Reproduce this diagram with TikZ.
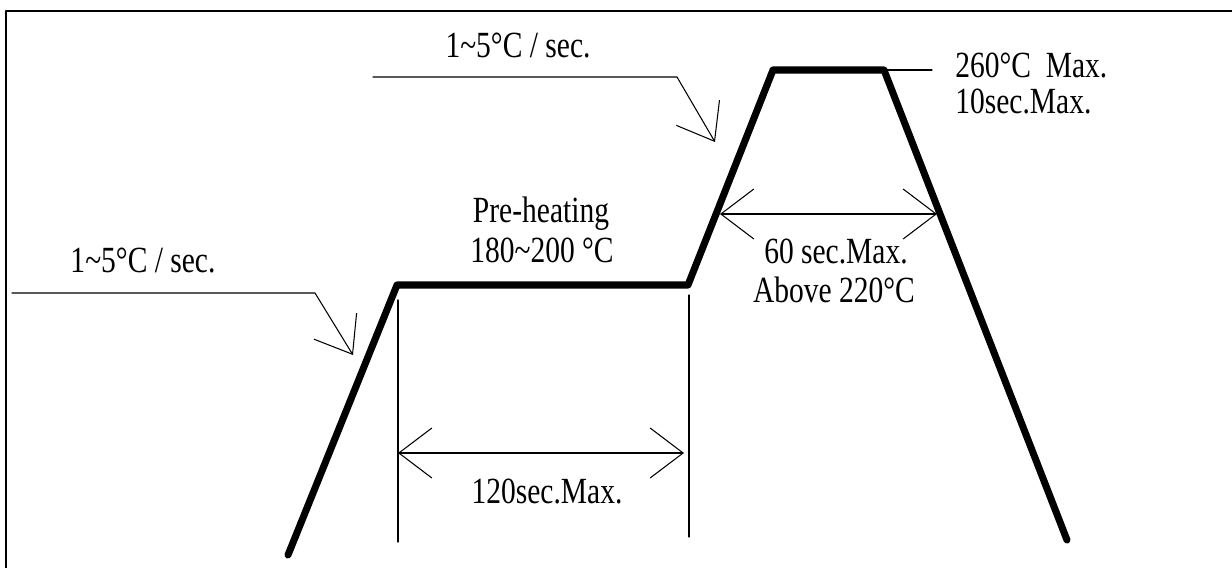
\documentclass[tikz,border=0pt]{standalone}
\usepackage{fontspec}
\setmainfont{Liberation Serif}[FakeStretch=0.8]
\usetikzlibrary{arrows.meta}

\begin{document}
\begin{tikzpicture}[line cap=round, line join=round, x=0.02cm, y=-0.02cm,
  >={Straight Barb[length=0.66cm,width=1cm]},
  profile/.style={line width=4pt},
  thinline/.style={line width=0.6pt},
  lbl/.style={font=\fontsize{21}{25}\selectfont, inner sep=0pt}]
  \useasboundingbox (0,0) rectangle (1232,568);
  \draw[line width=1.1pt, line cap=butt] (1232,11) -- (6,11) -- (6,568);
  % reflow profile
  \coordinate (start) at (288,555);
  \coordinate (preA) at (397,285);
  \coordinate (preB) at (688,285);
  \coordinate (peakA) at (773,70);
  \coordinate (peakB) at (884,70);
  \coordinate (stop) at (1067,540);
  \draw[profile] (start) -- (preA) -- (preB) -- (peakA) -- (peakB) -- (stop);
  % leaders
  \coordinate (lowL) at (12,293);
  \coordinate (lowK) at (315,293);
  \coordinate (lowT) at (353,355);
  \draw[thinline, ->] (lowL) -- (lowK) -- (lowT);
  \coordinate (upL) at (373,77);
  \coordinate (upK) at (677,77);
  \coordinate (upT) at (715,142);
  \draw[thinline, ->] (upL) -- (upK) -- (upT);
  \coordinate (topR) at (932,70);
  \draw[thinline] (peakB) -- (topR);
  % dimensions
  \coordinate (dimLa) at (398,300);
  \coordinate (dimLb) at (398,542);
  \coordinate (dimRa) at (689,295);
  \coordinate (dimRb) at (689,537);
  \draw[thinline] (dimLa) -- (dimLb);
  \draw[thinline] (dimRa) -- (dimRb);
  \coordinate (soakL) at (398,453);
  \coordinate (soakR) at (684,453);
  \draw[thinline, <->] (soakL) -- (soakR);
  \coordinate (liqL) at (720,214);
  \coordinate (liqR) at (937,214);
  \draw[thinline, <->] (liqL) -- (liqR);
  % labels
  \node[lbl, anchor=base] (rateLow) at (143,272) {1\textasciitilde5°C / sec.};
  \node[lbl, anchor=base] (rateUp) at (518,57) {1\textasciitilde5°C / sec.};
  \node[lbl, anchor=base west] (peakTemp) at (955,77) {260°C\ \ Max.};
  \node[lbl, anchor=base west] (peakTime) at (955,113) {10sec.Max.};
  \node[lbl, anchor=base] (preName) at (541,222) {Pre-heating};
  \node[lbl, anchor=base] (preTemp) at (542,262) {180\textasciitilde200 °C};
  \node[lbl, anchor=base] (liqTime) at (836,263) {60 sec.Max.};
  \node[lbl, anchor=base] (liqTemp) at (834,302) {Above 220°C};
  \node[lbl, anchor=base] (soakTime) at (547,503) {120sec.Max.};
\end{tikzpicture}
\end{document}
